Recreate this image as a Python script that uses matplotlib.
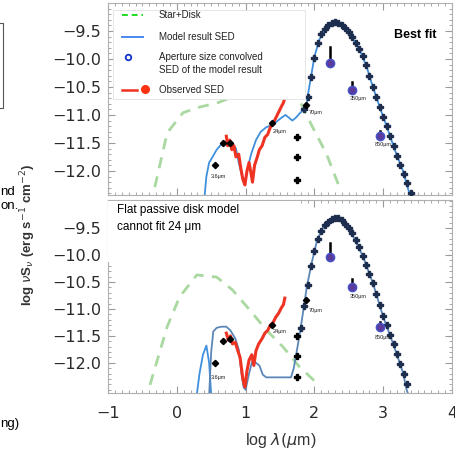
import matplotlib
matplotlib.use("Agg")
import matplotlib.pyplot as plt
from matplotlib.lines import Line2D
from matplotlib.patches import Rectangle
from matplotlib.ticker import MultipleLocator

plt.rcParams['font.family'] = ['Liberation Sans', 'DejaVu Sans']

# ---------------- data ----------------
# top panel (best fit)
top_star_x = [-0.32, -0.14, 0.09, 0.33, 0.60, 0.81, 1.05, 1.30, 1.54, 1.78, 1.97, 2.17, 2.36]
top_star_y = [-12.29, -11.32, -10.96, -10.86, -10.78, -10.68, -10.55, -10.43, -10.43, -10.73, -11.21, -11.68, -12.28]

top_model_x = [0.40, 0.43, 0.47, 0.52, 0.58, 0.65, 0.72, 0.80, 0.86, 0.90, 0.95, 0.99, 1.03, 1.08, 1.15,
               1.22, 1.30, 1.38, 1.45, 1.52, 1.58, 1.63, 1.68, 1.73, 1.78, 1.83,
               1.88, 1.91, 1.96, 2.00, 2.07, 2.17, 2.25, 2.33, 2.40, 2.50, 2.66, 2.76, 2.85, 2.95,
               3.05, 3.12, 3.20, 3.28, 3.38, 3.43]
top_model_y = [-12.50, -12.10, -11.85, -11.75, -11.62, -11.52, -11.48, -11.50, -11.60, -11.85, -12.10, -12.20,
               -11.95, -11.70, -11.45, -11.30, -11.22, -11.18, -11.12, -11.05, -11.00, -11.05, -11.10, -11.05,
               -10.98, -10.92, -10.86, -10.61, -10.25, -9.96, -9.66, -9.43, -9.36, -9.34, -9.38, -9.52,
               -9.84, -10.14, -10.50, -10.86, -11.20, -11.45, -11.73, -11.97, -12.40, -12.60]

top_conv_x = [1.85, 1.90, 1.95, 2.00, 2.05, 2.10, 2.15, 2.20, 2.25, 2.30, 2.35, 2.40, 2.45, 2.50, 2.55,
              2.60, 2.65, 2.70, 2.75, 2.80, 2.85, 2.90, 2.95, 3.00, 3.05, 3.10, 3.15, 3.20, 3.25, 3.30,
              3.35, 3.40]
top_conv_y = [-10.90, -10.68, -10.32, -9.98, -9.72, -9.56, -9.46, -9.40, -9.36, -9.34, -9.35, -9.39, -9.45,
              -9.52, -9.61, -9.71, -9.82, -9.95, -10.11, -10.30, -10.50, -10.68, -10.86, -11.03, -11.20,
              -11.38, -11.56, -11.73, -11.89, -12.05, -12.22, -12.40]

top_obs_x = [0.72, 0.74, 0.77, 0.80, 0.83, 0.86, 0.90, 0.93, 0.96, 0.99, 1.02, 1.05, 1.08, 1.10, 1.13,
             1.17, 1.20, 1.24, 1.28, 1.32, 1.36, 1.40, 1.44, 1.48, 1.52, 1.55, 1.57]
top_obs_y = [-11.38, -11.55, -11.45, -11.62, -11.55, -11.75, -11.70, -11.95, -12.15, -12.25, -12.00, -11.85,
             -12.05, -12.20, -11.90, -11.75, -11.62, -11.55, -11.40, -11.35, -11.22, -11.15, -11.05, -10.95,
             -10.85, -10.78, -10.70]

top_phot_x = [0.55, 0.67, 0.77, 1.39, 1.88]
top_phot_y = [-11.90, -11.50, -11.50, -11.14, -10.82]
top_cross_x = [1.74, 1.74, 1.74]
top_cross_y = [-11.39, -11.75, -12.16]
top_submm_x = [2.22, 2.55, 2.95]
top_submm_y = [-10.07, -10.55, -11.37]
top_submm_top = [-9.79, -10.42, -11.28]

# bottom panel (flat passive disk)
bot_star_x = [-0.39, -0.14, 0.04, 0.29, 0.58, 0.81, 1.06, 1.30, 1.54, 1.78, 2.03]
bot_star_y = [-12.41, -11.33, -10.78, -10.37, -10.41, -10.65, -11.02, -11.39, -11.70, -12.07, -12.37]

bot_modelA_x = [0.29, 0.33, 0.38, 0.43, 0.47, 0.50]
bot_modelA_y = [-12.60, -12.20, -11.85, -11.68, -12.00, -12.60]

bot_model_x = [0.47, 0.50, 0.53, 0.58, 0.65, 0.72, 0.78, 0.85, 0.90, 0.94, 0.97, 1.00, 1.05, 1.10, 1.15,
               1.20, 1.25, 1.30, 1.40, 1.50, 1.60, 1.66, 1.70, 1.74, 1.79, 1.84, 1.89, 1.96, 2.04, 2.13,
               2.22, 2.30, 2.40, 2.52, 2.71, 2.85, 3.00, 3.14, 3.29, 3.34, 3.40]
bot_model_y = [-12.60, -11.80, -11.42, -11.35, -11.33, -11.33, -11.40, -11.55, -11.75, -12.20, -12.45, -12.50,
               -12.20, -11.95, -12.00, -12.05, -12.22, -12.27, -12.27, -12.27, -12.27, -12.27, -12.10, -11.81,
               -11.44, -11.02, -10.59, -10.15, -9.72, -9.48, -9.36, -9.31, -9.36, -9.54, -10.04, -10.52,
               -11.15, -11.63, -12.19, -12.50, -12.70]

bot_conv_x = [1.80, 1.85, 1.90, 1.95, 2.00, 2.05, 2.10, 2.15, 2.20, 2.25, 2.30, 2.35, 2.40, 2.45, 2.50,
              2.55, 2.60, 2.65, 2.70, 2.75, 2.80, 2.85, 2.90, 2.95, 3.00, 3.05, 3.10, 3.15, 3.20, 3.25,
              3.30, 3.35]
bot_conv_y = [-11.35, -10.95, -10.55, -10.20, -9.92, -9.70, -9.55, -9.45, -9.38, -9.33, -9.31, -9.32, -9.36,
              -9.42, -9.50, -9.60, -9.72, -9.86, -10.01, -10.18, -10.35, -10.52, -10.72, -10.93, -11.13,
              -11.30, -11.48, -11.66, -11.84, -12.02, -12.21, -12.40]

bot_obs_x = [0.72, 0.75, 0.78, 0.81, 0.85, 0.88, 0.92, 0.96, 0.99, 1.02, 1.05, 1.09, 1.12, 1.15, 1.19,
             1.24, 1.28, 1.32, 1.36, 1.40, 1.44, 1.48, 1.52, 1.55, 1.57]
bot_obs_y = [-11.45, -11.58, -11.50, -11.65, -11.62, -11.75, -11.90, -12.30, -12.45, -12.15, -11.95, -11.85,
             -12.05, -11.78, -11.65, -11.55, -11.45, -11.40, -11.30, -11.25, -11.15, -11.08, -10.98, -10.92,
             -10.80]

bot_phot_x = [0.55, 0.67, 0.77, 1.39, 1.88]
bot_phot_y = [-12.00, -11.60, -11.56, -11.30, -10.83]
bot_cross_x = [1.74, 1.74, 1.74]
bot_cross_y = [-11.50, -11.87, -12.26]
bot_submm_x = [2.22, 2.55, 2.95]
bot_submm_y = [-10.04, -10.60, -11.33]
bot_submm_top = [-9.78, -10.45, -11.25]

band_labels = ["3.6μm", "24μm", "70μm", "350μm", "850μm"]
band_label_x = [0.50, 1.40, 1.92, 2.52, 2.88]
top_band_label_y = [-12.12, -11.32, -10.98, -10.74, -11.55]
bot_band_label_y = [-12.30, -11.45, -11.05, -10.80, -11.55]

xticks = [-1, 0, 1, 2, 3, 4]
yticks = [-12.0, -11.5, -11.0, -10.5, -10.0, -9.5]

# ---------------- figure ----------------
W, H = 455, 451
fig = plt.figure(figsize=(W / 100, H / 100), dpi=100)


def fx(px):
    return px / W


def fy(py):
    return 1 - py / H


x_left, x_right = 108, 452
ax_top = fig.add_axes([fx(x_left), fy(195), fx(x_right - x_left), (195 - 3) / H])
ax_bot = fig.add_axes([fx(x_left), fy(393), fx(x_right - x_left), (393 - 200) / H])

c_star = '#a9d9a0'
c_model = '#3f8fdc'
c_model2 = '#5b86b8'
c_obs = '#ee3322'
c_conv = '#1d2d4d'
c_purple = '#5b3b9b'


def style(ax, ylim, show_x):
    ax.set_xlim(-1, 4)
    ax.set_ylim(*ylim)
    ax.set_xticks(xticks)
    ax.set_yticks(yticks)
    ax.xaxis.set_minor_locator(MultipleLocator(0.1))
    ax.yaxis.set_minor_locator(MultipleLocator(0.1))
    ax.tick_params(which='both', direction='in', top=True, right=True, colors='#9a9a9a',
                   labelcolor='#2a2a2a', labelsize=11.5)
    ax.tick_params(which='major', length=5, width=0.8)
    ax.tick_params(which='minor', length=2.5, width=0.6)
    ax.tick_params(axis='y', which='major', pad=5)
    ax.tick_params(axis='x', which='major', pad=9)
    if show_x:
        ax.set_xticklabels(["\u2212%d" % -v if v < 0 else "%d" % v for v in xticks],
                           family='DejaVu Sans')
    else:
        ax.set_xticklabels([])
    ax.set_yticklabels(["\u2212%.1f" % -v for v in yticks], family='DejaVu Sans')
    for s in ax.spines.values():
        s.set_color('#b0b0b0')
        s.set_linewidth(0.8)


def panel(ax, star_x, star_y, model_x, model_y, conv_x, conv_y, obs_x, obs_y,
          phot_x, phot_y, cross_x, cross_y, sub_x, sub_y, sub_top, lab_y, modelA=None):
    ax.plot(star_x, star_y, ls=(0, (4, 3)), color=c_star, lw=2.0, zorder=1)
    if modelA is not None:
        ax.plot(modelA[0], modelA[1], color=c_model, lw=1.3, zorder=2)
        ax.plot(model_x, model_y, color=c_model2, lw=1.3, zorder=2)
    else:
        ax.plot(model_x, model_y, color=c_model, lw=1.3, zorder=2)
    ax.plot(obs_x, obs_y, color=c_obs, lw=2.2, zorder=3)
    ax.plot(conv_x, conv_y, ls='none', marker='P', ms=4.2, color=c_conv, mec=c_conv, zorder=4)
    ax.plot(phot_x, phot_y, ls='none', marker='D', ms=3.2, color='black', zorder=5)
    ax.plot(cross_x, cross_y, ls='none', marker='P', ms=5, color='black', zorder=5)
    for x, y, t in zip(sub_x, sub_y, sub_top):
        ax.plot([x, x], [y, t], color='black', lw=1.8, zorder=5)
    ax.plot(sub_x, sub_y, ls='none', marker='o', ms=6, color=c_purple, mec='#4455cc', mew=1.0, zorder=6)
    for t, x, y in zip(band_labels, band_label_x, lab_y):
        ax.text(x, y, t, fontsize=4, color='#222222', zorder=7)


style(ax_top, (-12.43, -9.0), False)
style(ax_bot, (-12.56, -8.98), True)

panel(ax_top, top_star_x, top_star_y, top_model_x, top_model_y, top_conv_x, top_conv_y,
      top_obs_x, top_obs_y, top_phot_x, top_phot_y, top_cross_x, top_cross_y,
      top_submm_x, top_submm_y, top_submm_top, top_band_label_y)
panel(ax_bot, bot_star_x, bot_star_y, bot_model_x, bot_model_y, bot_conv_x, bot_conv_y,
      bot_obs_x, bot_obs_y, bot_phot_x, bot_phot_y, bot_cross_x, bot_cross_y,
      bot_submm_x, bot_submm_y, bot_submm_top, bot_band_label_y,
      modelA=(bot_modelA_x, bot_modelA_y))

# axis labels
fig.text(fx(28), fy(235), r"log $\nu$S$_\nu$ (erg s$^{-1}$ cm$^{-2}$)", rotation=90,
         ha='center', va='center', fontsize=9.5, color='#333333', fontweight='bold')
fig.text(fx(281), fy(440), r"log $\lambda(\mu$m)", ha='center', va='center',
         fontsize=11.5, color='#333333')

# legend (manual) in the top panel
fig.patches.append(Rectangle((fx(113), fy(99)), fx(305 - 113), (99 - 10) / H,
                             transform=fig.transFigure, facecolor='white', edgecolor='#e0e0e0',
                             lw=0.6, zorder=5))
fig.lines.append(Line2D([fx(122), fx(143)], [fy(15), fy(15)], transform=fig.transFigure,
                        color='#22dd22', ls=(0, (3, 2)), lw=1.4, zorder=6))
fig.lines.append(Line2D([fx(122), fx(143)], [fy(37), fy(37)], transform=fig.transFigure,
                        color='#4a88ee', lw=1.4, zorder=6))
fig.lines.append(Line2D([fx(128)], [fy(57)], transform=fig.transFigure, ls='none', marker='o',
                        ms=4, mfc='white', mec='#1133cc', mew=1.3, zorder=6))
fig.lines.append(Line2D([fx(122), fx(137)], [fy(90), fy(90)], transform=fig.transFigure,
                        color=c_obs, lw=1.8, zorder=6))
fig.lines.append(Line2D([fx(145)], [fy(89)], transform=fig.transFigure, ls='none', marker='o',
                        ms=5.5, color='#ff3311', zorder=6))
for t, py in [("Star+Disk", 15), ("Model result SED", 37), ("Aperture size convolved", 57),
              ("SED of the model result", 70), ("Observed SED", 90)]:
    fig.text(fx(159), fy(py), t, fontsize=7, color='#222222', va='center', ha='left', zorder=7)

fig.text(fx(437), fy(35), "Best fit", fontsize=9, fontweight='bold', ha='right', va='center',
         color='black')

# annotation box in lower panel
fig.patches.append(Rectangle((fx(108), fy(262)), fx(300 - 108), (262 - 200.5) / H,
                             transform=fig.transFigure, facecolor='white', edgecolor='none', zorder=5))
fig.text(fx(117), fy(210), "Flat passive disk model", fontsize=8.5, color='black', va='center',
         ha='left', zorder=7)
fig.text(fx(117), fy(227), "cannot fit 24 μm", fontsize=8.5, color='black', va='center',
         ha='left', zorder=7)

# fragments of neighbouring panel / caption on the left
fig.patches.append(Rectangle((fx(-5), fy(108)), fx(8), (108 - 23) / H, transform=fig.transFigure,
                             facecolor='none', edgecolor='#555555', lw=0.8, zorder=5))
fig.text(fx(0.5), fy(192), "nd", fontsize=9.5, ha='left', va='center', color='black')
fig.text(fx(0.5), fy(206), "on.", fontsize=9.5, ha='left', va='center', color='black')
fig.text(fx(0.5), fy(424), "ng)", fontsize=9.5, ha='left', va='center', color='black')

fig.savefig("out.png", dpi=100)
